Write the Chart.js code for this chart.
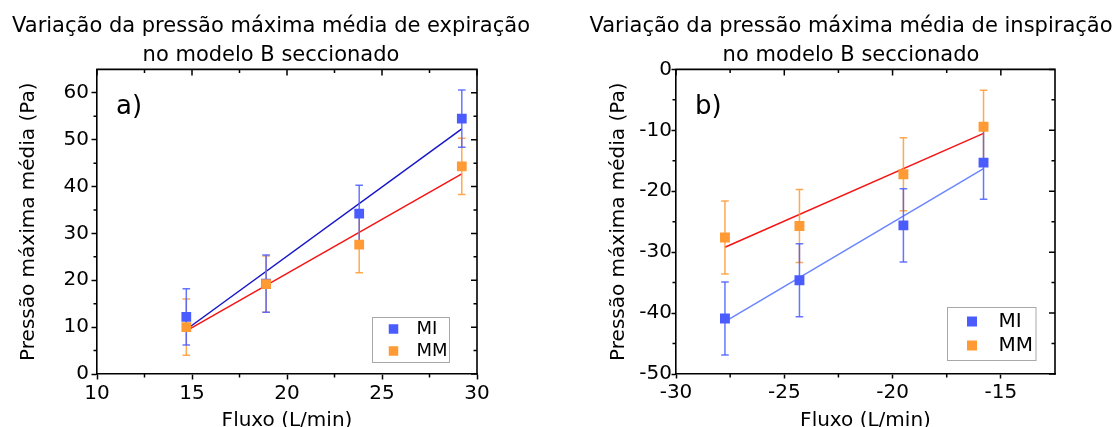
<!DOCTYPE html>
<html>
<head>
<meta charset="utf-8">
<script src="https://cdn.jsdelivr.net/npm/chart.js@4.4.1/dist/chart.umd.min.js"></script>
<style>
html, body { margin: 0; padding: 0; background: #fff; }
body { width: 1115px; height: 427px; position: relative; overflow: hidden; }
#ca { position: absolute; left: 0; top: 0; }
#cb { position: absolute; left: 587px; top: 0; }
</style>
</head>
<body>
<canvas id="ca" width="542" height="427"></canvas>
<canvas id="cb" width="528" height="427"></canvas>
<script>
// ---------- shared text ----------
const seriesNames = ['MI', 'MM'];
const xAxisTitle = 'Fluxo (L/min)';
const yAxisTitle = 'Pressão máxima média (Pa)';

// ---------- panel a (expiração) ----------
const titleA = ['Variação da pressão máxima média de expiração', 'no modelo B seccionado'];
const fluxoA = [14.7, 18.9, 23.8, 29.2];
const miA = [12.2, 19.3, 34.2, 54.5];
const miErrA = [6.0, 6.1, 6.1, 6.1];
const mmA = [10.0, 19.2, 27.6, 44.3];
const mmErrA = [6.0, 6.0, 6.0, 6.0];
const fitXA = [14.7, 29.2];
const fitMiA = [9.5, 52.3];
const fitMmA = [9.2, 42.7];
const xRangeA = [10, 30];
const yRangeA = [0, 65];
const xTicksA = [10, 15, 20, 25, 30];
const yTicksA = [0, 10, 20, 30, 40, 50, 60];
const xMinorA = [12.5, 17.5, 22.5, 27.5];
const yMinorA = [5, 15, 25, 35, 45, 55];

// ---------- panel b (inspiração) ----------
const titleB = ['Variação da pressão máxima média de inspiração', 'no modelo B seccionado'];
const fluxoB = [-27.74, -24.3, -19.5, -15.8];
const miB = [-40.9, -34.6, -25.6, -15.3];
const miErrB = [6.0, 6.0, 6.0, 6.0];
const mmB = [-27.6, -25.7, -17.2, -9.4];
const mmErrB = [6.0, 6.0, 6.0, 6.0];
const fitXB = [-27.74, -15.8];
const fitMiB = [-41.4, -16.3];
const fitMmB = [-29.2, -10.5];
const xRangeB = [-30, -12.5];
const yRangeB = [-50, 0];
const xTicksB = [-30, -25, -20, -15];
const yTicksB = [-50, -40, -30, -20, -10, 0];
const xMinorB = [-27.5, -22.5, -17.5];
const yMinorB = [-45, -35, -25, -15, -5];

// ---------- styles ----------
const markerColors = ['#4b5cff', '#ff9a35'];
const errColors = ['rgba(75,95,255,0.85)', 'rgba(255,154,53,0.85)'];
const FONT = "'DejaVu Sans', 'Liberation Sans', sans-serif";

Chart.defaults.font.family = FONT;
Chart.defaults.color = '#000';

function pts(xs, ys) { return xs.map((x, i) => ({ x: x, y: ys[i] })); }

function errorSets(xs, ys, es, color) {
  return xs.map((x, i) => ({
    data: [{ x: x, y: ys[i] - es[i] }, { x: x, y: ys[i] + es[i] }],
    showLine: true,
    borderColor: color,
    borderWidth: 1.5,
    pointStyle: 'line',
    pointRadius: 3.8,
    pointHoverRadius: 3.8,
    pointBorderColor: color,
    pointBorderWidth: 1.5,
    order: 2
  }));
}

const decorPlugin = {
  id: 'decor',
  afterDraw(chart, args, o) {
    const ctx = chart.ctx;
    const a = chart.chartArea;
    const xs = chart.scales.x, ys = chart.scales.y;
    ctx.save();
    // top & right frame
    ctx.strokeStyle = '#000';
    ctx.lineWidth = o.frameWidth;
    ctx.beginPath();
    ctx.moveTo(a.left - o.frameWidth / 2, a.top);
    ctx.lineTo(a.right, a.top);
    ctx.lineTo(a.right, a.bottom + o.frameWidth / 2);
    ctx.stroke();
    // inward ticks (top/right) and minor ticks
    ctx.lineWidth = 1.5;
    ctx.beginPath();
    o.xMajor.forEach(v => { const p = xs.getPixelForValue(v); ctx.moveTo(p, a.top); ctx.lineTo(p, a.top + o.major); });
    o.yMajor.forEach(v => { const p = ys.getPixelForValue(v); ctx.moveTo(a.right, p); ctx.lineTo(a.right - o.major, p); });
    o.xMinor.forEach(v => {
      const p = xs.getPixelForValue(v);
      ctx.moveTo(p, a.top); ctx.lineTo(p, a.top + o.minor);
      ctx.moveTo(p, a.bottom); ctx.lineTo(p, a.bottom + o.minor);
    });
    o.yMinor.forEach(v => {
      const p = ys.getPixelForValue(v);
      ctx.moveTo(a.right, p); ctx.lineTo(a.right - o.minor, p);
      ctx.moveTo(a.left, p); ctx.lineTo(a.left - o.minor, p);
    });
    ctx.stroke();
    // panel letter
    ctx.fillStyle = '#000';
    ctx.font = o.panelFont;
    ctx.textAlign = 'left';
    ctx.textBaseline = 'alphabetic';
    ctx.fillText(o.panel, a.left + o.panelDX, a.top + o.panelDY);
    // legend box
    const L = o.legend;
    ctx.strokeStyle = '#a8a8a8';
    ctx.lineWidth = 1;
    ctx.strokeRect(L.x + 0.5, L.y + 0.5, L.w, L.h);
    ctx.font = L.font;
    ctx.textBaseline = 'middle';
    seriesNames.forEach((name, i) => {
      const cy = L.y + L.rows[i];
      ctx.fillStyle = markerColors[i];
      ctx.fillRect(L.x + L.markerDX - L.size / 2, cy - L.size / 2, L.size, L.size);
      ctx.fillStyle = '#000';
      ctx.fillText(name, L.x + L.textDX, cy);
    });
    ctx.restore();
  }
};

function buildChart(canvasId, p) {
  const datasets = [
    { label: seriesNames[0], data: pts(p.fluxo, p.mi), showLine: false, pointStyle: 'rect',
      pointRadius: p.markerR, pointHoverRadius: p.markerR, pointBackgroundColor: markerColors[0],
      pointBorderWidth: 0, order: 1 },
    { label: seriesNames[1], data: pts(p.fluxo, p.mm), showLine: false, pointStyle: 'rect',
      pointRadius: p.markerR, pointHoverRadius: p.markerR, pointBackgroundColor: markerColors[1],
      pointBorderWidth: 0, order: 0 },
    ...errorSets(p.fluxo, p.mi, p.miErr, errColors[0]),
    ...errorSets(p.fluxo, p.mm, p.mmErr, errColors[1]),
    { data: pts(p.fitX, p.fitMi), showLine: true, borderColor: p.fitColors[0], borderWidth: 1.5,
      pointRadius: 0, pointHoverRadius: 0, order: 3 },
    { data: pts(p.fitX, p.fitMm), showLine: true, borderColor: p.fitColors[1], borderWidth: 1.5,
      pointRadius: 0, pointHoverRadius: 0, order: 3 }
  ];
  return new Chart(document.getElementById(canvasId), {
    type: 'scatter',
    data: { datasets: datasets },
    options: {
      responsive: false,
      animation: false,
      events: [],
      layout: { padding: 0 },
      plugins: {
        legend: { display: false },
        tooltip: { enabled: false },
        title: {
          display: true, text: p.title, color: '#000',
          font: { family: FONT, size: 21, weight: 'normal', lineHeight: 1.367 },
          padding: { top: 12, bottom: 0 }
        },
        decor: {
          frameWidth: 1.6, major: 6, minor: 3.5,
          xMajor: p.xTicks, yMajor: p.yTicks, xMinor: p.xMinor, yMinor: p.yMinor,
          panel: p.panel, panelFont: '26px ' + FONT, panelDX: 19, panelDY: 44.5,
          legend: p.legend
        }
      },
      scales: {
        x: {
          type: 'linear', position: 'bottom', min: p.xRange[0], max: p.xRange[1],
          afterBuildTicks: s => { s.ticks = p.xTicks.map(v => ({ value: v })); },
          afterFit: s => { s.height = 53; },
          ticks: { autoSkip: false, maxRotation: 0, minRotation: 0, padding: p.xPad,
                   font: { size: 20 }, color: '#000', callback: v => String(v) },
          grid: { display: true, drawOnChartArea: false, drawTicks: true, tickLength: p.tick,
                  tickWidth: 1.5, tickColor: '#000', color: '#000' },
          border: { display: true, color: '#000', width: 1.6 },
          title: { display: true, text: xAxisTitle, color: '#000',
                   font: { size: 20, lineHeight: 0.64 }, padding: 0 }
        },
        y: {
          type: 'linear', position: 'left', min: p.yRange[0], max: p.yRange[1],
          afterBuildTicks: s => { s.ticks = p.yTicks.map(v => ({ value: v })); },
          afterFit: s => { s.width = p.yAxisW; },
          ticks: { autoSkip: false, padding: p.yPad, font: { size: 20 }, color: '#000',
                   callback: v => String(v) },
          grid: { display: true, drawOnChartArea: false, drawTicks: true, tickLength: p.tick,
                  tickWidth: 1.5, tickColor: '#000', color: '#000' },
          border: { display: true, color: '#000', width: 1.6 },
          title: { display: true, text: yAxisTitle, color: '#000',
                   font: { size: 20, lineHeight: 1.2 }, padding: { top: p.yTitlePad, bottom: 0 } }
        },
        y2: {
          type: 'linear', position: 'right', display: true,
          grid: { display: false }, ticks: { display: false }, border: { display: false },
          afterFit: s => { s.width = p.rightW; }
        }
      }
    },
    plugins: [decorPlugin]
  });
}

buildChart('ca', {
  title: titleA, fluxo: fluxoA, mi: miA, miErr: miErrA, mm: mmA, mmErr: mmErrA,
  fitX: fitXA, fitMi: fitMiA, fitMm: fitMmA, fitColors: ['#1616c8', '#f51414'],
  xRange: xRangeA, yRange: yRangeA, xTicks: xTicksA, yTicks: yTicksA, xMinor: xMinorA, yMinor: yMinorA,
  markerR: 6.9, tick: 5.5, xPad: 2, yPad: 2.5, yAxisW: 97, rightW: 65, yTitlePad: 17,
  panel: 'a)',
  legend: { x: 372, y: 317, w: 77, h: 45, markerDX: 21.5, rows: [12, 34], textDX: 44.5,
            size: 9.5, font: '18px ' + FONT }
});

buildChart('cb', {
  title: titleB, fluxo: fluxoB, mi: miB, miErr: miErrB, mm: mmB, mmErr: mmErrB,
  fitX: fitXB, fitMi: fitMiB, fitMm: fitMmB, fitColors: ['#6a86ff', '#f51414'],
  xRange: xRangeB, yRange: yRangeB, xTicks: xTicksB, yTicks: yTicksB, xMinor: xMinorB, yMinor: yMinorB,
  markerR: 7, tick: 4.5, xPad: 2, yPad: -0.5, yAxisW: 89, rightW: 60, yTitlePad: 20,
  panel: 'b)',
  legend: { x: 360, y: 307, w: 88.5, h: 53, markerDX: 25, rows: [14.5, 38.5], textDX: 51.5,
            size: 10, font: '20px ' + FONT }
});
</script>
</body>
</html>
